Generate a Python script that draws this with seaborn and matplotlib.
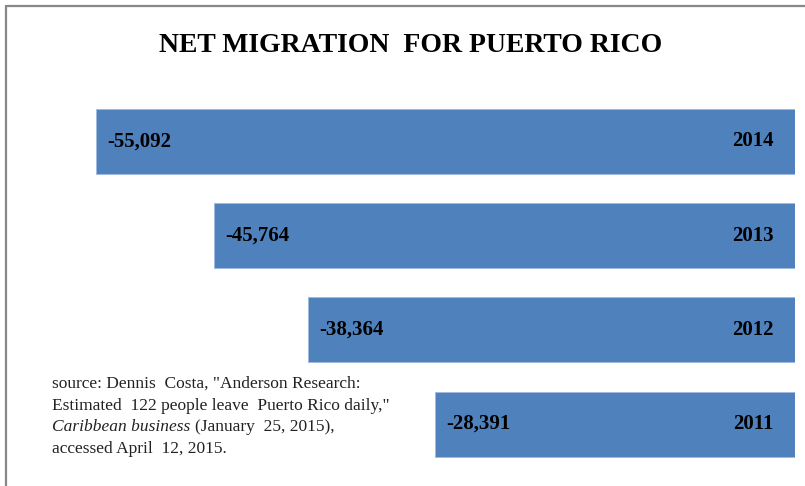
import matplotlib
matplotlib.use("Agg")
from matplotlib import pyplot as plt
from matplotlib.lines import Line2D
import pandas as pd
import seaborn as sns

years = ["2014", "2013", "2012", "2011"]
net_migration = [-55092, -45764, -38364, -28391]

title = "NET MIGRATION  FOR PUERTO RICO"
source_lines = [
    'source: Dennis  Costa, "Anderson Research:',
    'Estimated  122 people leave  Puerto Rico daily,"',
    None,
    "accessed April  12, 2015.",
]

if __name__ == "__main__":
    sns.set_style("white")
    plt.rcParams["font.family"] = ["Liberation Serif", "DejaVu Serif"]
    plt.rcParams["text.color"] = "black"

    df = pd.DataFrame({"year": years, "value": net_migration})

    fig = plt.figure(figsize=(8.05, 4.86), dpi=100)
    W, H = 805, 486
    ax = fig.add_axes([96 / W, 1 - 471.1 / H, (795 - 96) / W, (471.1 - 94.4) / H])
    sns.barplot(data=df, x="value", y="year", order=years, orient="h",
                color="#4F81BD", saturation=1, width=0.69,
                edgecolor="#9dbbe0", linewidth=0.6, ax=ax)
    ax.set_xlim(min(net_migration), 0)
    ax.set_ylim(3.5, -0.5)
    ax.axis("off")

    for i, (yr, v) in enumerate(zip(years, net_migration)):
        ax.annotate(f"-{abs(v):,}", (v, i), xytext=(8, 0), textcoords="offset points",
                    ha="left", va="center", fontsize=15, fontweight="bold",
                    color="black")
        ax.annotate(yr, (0, i), xytext=(-15.5, 0), textcoords="offset points",
                    ha="right", va="center", fontsize=15, fontweight="bold",
                    color="black")

    fig.text(411 / W, 1 - 46 / H, title, ha="center", va="center",
             fontsize=20, fontweight="bold", color="black")

    y0 = 384
    for k, line in enumerate(source_lines):
        y = 1 - (y0 + 21.7 * k) / H
        if line is None:
            t1 = fig.text(52 / W, y, "Caribbean business", ha="left", va="center",
                          fontsize=12.5, style="italic", color="#222222")
            fig.canvas.draw()
            bb = t1.get_window_extent()
            fig.text((bb.x1 + 5) / W, y, "(January  25, 2015),", ha="left",
                     va="center", fontsize=12.5, color="#222222")
        else:
            fig.text(52 / W, y, line, ha="left", va="center", fontsize=12.5,
                     color="#222222")

    # frame (top and left edges visible)
    fig.add_artist(Line2D([6 / W, 6 / W], [0, 1 - 6 / H], transform=fig.transFigure,
                          color="#888888", linewidth=1.6))
    fig.add_artist(Line2D([6 / W, 1], [1 - 6 / H, 1 - 6 / H], transform=fig.transFigure,
                          color="#888888", linewidth=1.6))

    fig.savefig("out.png", dpi=100)
